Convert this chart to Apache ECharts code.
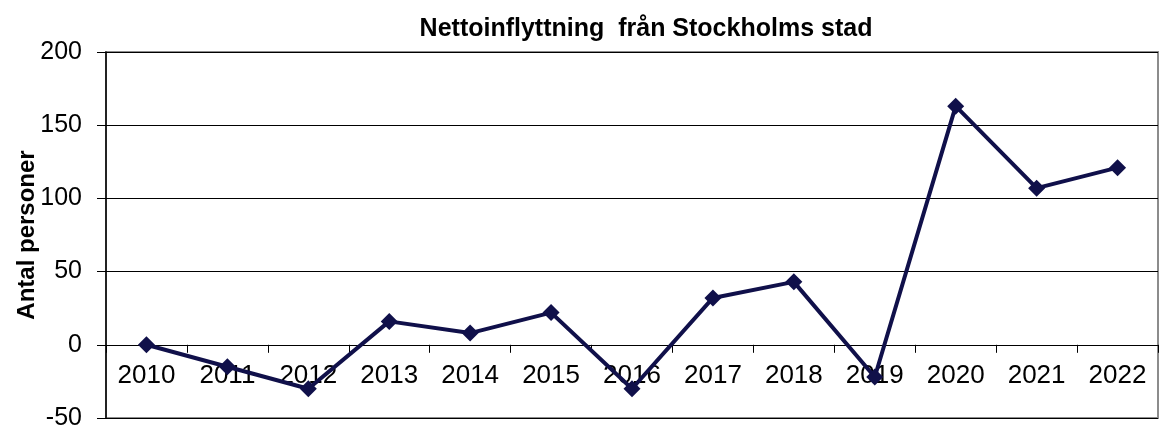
<!DOCTYPE html>
<html>
<head>
<meta charset="utf-8">
<script src="https://cdn.jsdelivr.net/npm/echarts@6/dist/echarts.min.js"></script>
<style>html,body{margin:0;padding:0;background:#fff;}#c{width:1160px;height:426px;}</style>
</head>
<body>
<div id="c"></div>
<script>
var titleText = 'Nettoinflyttning  från Stockholms stad';
var yAxisName = 'Antal personer';
var years = ['2010','2011','2012','2013','2014','2015','2016','2017','2018','2019','2020','2021','2022'];
var values = [0, -15, -30, 16, 8, 22, -30, 32, 43, -22, 163, 107, 121];
var yMin = -50, yMax = 200, yStep = 50;

var gridTop = 52, gridBottom = 8, H = 426;
var plotH = H - gridTop - gridBottom;
var zeroOffset = -plotH * (0 - yMin) / (yMax - yMin);

var chart = echarts.init(document.getElementById('c'), null, {renderer: 'canvas'});
var font = '"Liberation Sans", Arial, sans-serif';
chart.setOption({
  animation: false,
  backgroundColor: '#fff',
  title: {
    text: titleText,
    left: 641, top: 12, textAlign: 'center',
    textStyle: {fontFamily: font, fontSize: 25, fontWeight: 'bold', color: '#000'}
  },
  grid: {left: 106, right: 2, top: gridTop, bottom: gridBottom, containLabel: false, outerBoundsMode: 'none', show: true, borderColor: '#8c8c8c', borderWidth: 2, backgroundColor: 'transparent'},
  xAxis: {
    type: 'category', data: years, boundaryGap: true, position: 'bottom', offset: zeroOffset,
    axisLine: {onZero: false, lineStyle: {color: '#000', width: 1}},
    axisTick: {show: true, alignWithLabel: false, length: 8, inside: false, lineStyle: {color: '#000'}},
    axisLabel: {fontFamily: font, fontSize: 26, color: '#000', margin: 18},
    splitLine: {show: false}
  },
  yAxis: {
    type: 'value', min: yMin, max: yMax, interval: yStep,
    name: yAxisName, nameLocation: 'middle', nameGap: 67, nameMoveOverlap: false,
    nameTextStyle: {fontFamily: font, fontSize: 24, fontWeight: 'bold', color: '#000'},
    axisLine: {show: true, lineStyle: {color: '#000', width: 1.5}},
    axisTick: {show: true, length: 9, lineStyle: {color: '#000'}},
    axisLabel: {fontFamily: font, fontSize: 25, color: '#000', margin: 24},
    splitLine: {show: true, lineStyle: {color: '#000', width: 1}}
  },
  series: [{
    type: 'line', data: values,
    symbol: 'diamond', symbolSize: 17,
    lineStyle: {color: '#10104a', width: 4},
    itemStyle: {color: '#10104a'},
    z: 5
  }]
});
</script>
</body>
</html>
